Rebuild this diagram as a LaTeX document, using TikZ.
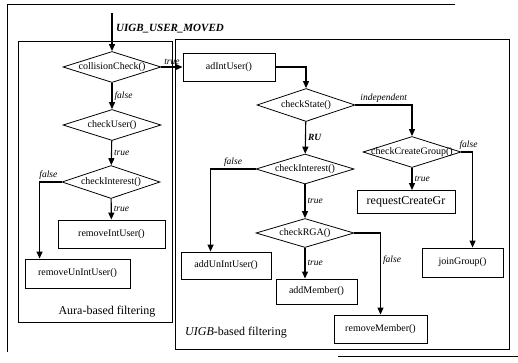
\documentclass[tikz,border=0pt]{standalone}
\usepackage{fontspec}
\setmainfont{Liberation Serif}
\usepackage{tikz}
\usetikzlibrary{shapes.geometric, positioning, arrows.meta}

\tikzset{
    decision/.style={diamond, draw, line width=0.8pt, inner sep=0pt,
        minimum width=98pt, minimum height=31pt,
        font=\fontsize{10}{12}\selectfont,
        execute at begin node={\hbox to 0pt\bgroup\hss},
        execute at end node={\hss\egroup}},
    process/.style={rectangle, draw, line width=0.9pt, inner sep=0pt,
        minimum height=28pt, font=\fontsize{10}{12}\selectfont},
    lbl/.style={font=\fontsize{9.5}{11}\selectfont\itshape, inner sep=2pt},
    flow/.style={->, line width=1.1pt},
    region/.style={line width=0.9pt},
    title/.style={font=\fontsize{12}{14}\selectfont, inner sep=0pt}
}

\begin{document}
\begin{tikzpicture}[x=1pt, y=-1pt, >={Triangle[length=7pt, width=6pt]}]
        \useasboundingbox (0,0) rectangle (518,362);
        \draw[line width=0.8pt] (455,4) -- (7,4) -- (7,352);
        \draw[line width=0.8pt] (338,356) -- (518,356);
        \draw[region] (18,41) rectangle (172,322);
        \draw[region] (175,39) rectangle (509,349);
        \node[title] (auraname) at (107,312) {Aura-based filtering};
        \node[title] (uigbname) at (236,333) {\textit{UIGB}-based filtering};

        \coordinate (start) at (112,13);
        \node[font=\fontsize{11}{13}\selectfont\bfseries\itshape, inner sep=0pt] (evt) at (170,29) {UIGB\_USER\_MOVED};

        \node[decision] (cc) at (112,67) {collisionCheck()};
        \node[decision] (cu) at (112,125) {checkUser()};
        \node[decision, minimum height=33pt] (ciA) at (111,182) {checkInterest()};
        \node[process, minimum width=107pt] (rmInt) at (111.5,234) {removeIntUser()};
        \node[process, minimum width=105pt, minimum height=29pt] (rmUnInt) at (77.5,273.5) {removeUnIntUser()};

        \node[process, minimum width=92pt] (addint) at (229,67) {adIntUser()};
        \node[decision, minimum height=33pt] (cs) at (306,105) {checkState()};
        \node[decision, minimum height=30pt] (ciU) at (305,169) {checkInterest()};
        \node[decision, minimum height=29pt] (rga) at (305,233) {checkRGA()};
        \node[process, minimum width=90pt, minimum height=27pt] (addUn) at (226,265.5) {addUnIntUser()};
        \node[process, minimum width=81pt, minimum height=25pt] (addM) at (316.5,291.5) {addMember()};
        \node[process, minimum width=93pt] (rmM) at (380.5,329) {removeMember()};
        \node[decision] (ccg) at (412,152) {checkCreateGroup()};
        \node[process, minimum width=98pt, minimum height=23pt, font=\fontsize{12}{14}\selectfont] (req) at (406,202) {requestCreateGr};
        \node[process, minimum width=81pt, minimum height=29pt] (join) at (462.5,262.5) {joinGroup()};

        \draw[flow] (start) -- (cc);
        \draw[flow] (cc) -- node[lbl, right] {false} (cu);
        \draw[flow] (cu) -- node[lbl, right] {true} (ciA);
        \draw[flow] (ciA) -- node[lbl, right] {true} (rmInt);
        \draw[flow] (ciA.west) -| node[lbl, above, pos=0.3] {false} ([xshift=15pt]rmUnInt.north west);
        \draw[flow] (cc.east) -- node[lbl, above] {true} (cc.east -| addint.west);

        \draw[flow] (addint.east) -| (cs.north);
        \draw[flow] (cs) -- node[lbl, right, font=\fontsize{9.5}{11}\selectfont\bfseries\itshape] {RU} (ciU);
        \draw[flow] (ciU.west) -| node[lbl, above, pos=0.25] {false} ([xshift=30pt]addUn.north west);
        \draw[flow] (ciU) -- node[lbl, right] {true} (rga);
        \draw[flow] (rga.south) -- node[lbl, right] {true} (rga.south |- addM.north);
        \draw[flow] (rga.east) -| node[lbl, right, pos=0.665] {false} (rmM.north);
        \draw[flow] (cs.east) -| node[lbl, above, pos=0.25] {independent} (ccg.north);
        \draw[flow] (ccg.south) -- node[lbl, right] {true} (ccg.south |- req.north);
        \draw[flow] (ccg.east) -| node[lbl, above, pos=0.5, xshift=-4pt] {false} ([xshift=51pt]join.north west);
    \end{tikzpicture}
\end{document}
